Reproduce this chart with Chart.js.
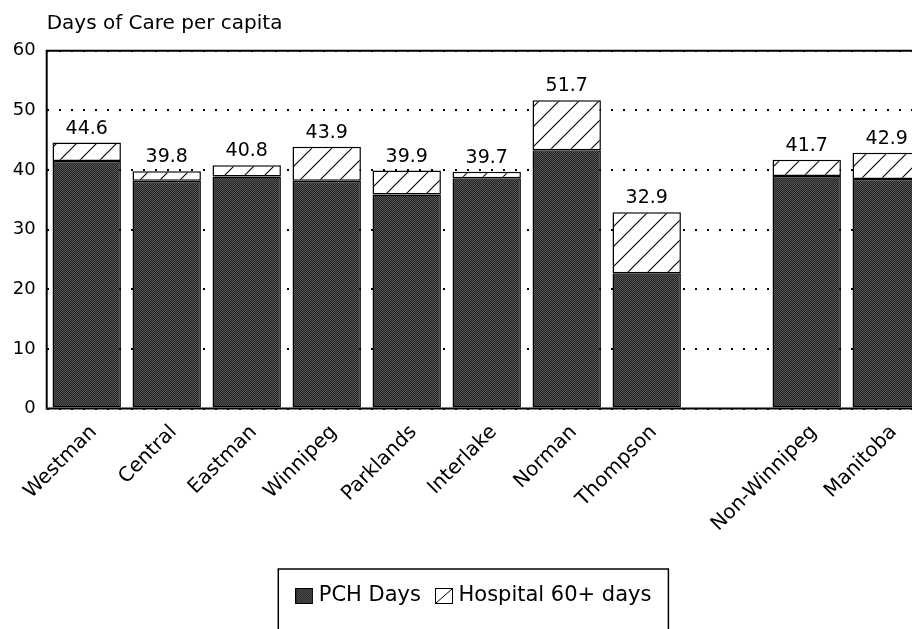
<!DOCTYPE html>
<html><head><meta charset="utf-8">
<script src="https://cdn.jsdelivr.net/npm/chart.js@4"></script>
<style>html,body{margin:0;padding:0;overflow:hidden;background:#fff;width:912px;height:629px}canvas{display:block}</style>
</head><body>
<canvas id="c" width="940" height="629"></canvas>
<script>
const categories = ['Westman','Central','Eastman','Winnipeg','Parklands','Interlake','Norman','Thompson','','Non-Winnipeg','Manitoba'];
const pchDays    = [41.5, 38.2, 38.9, 38.2, 35.9, 38.6, 43.3, 22.7, null, 39.0, 38.5];
const hospital60 = [ 3.1,  1.6,  1.9,  5.7,  4.0,  1.1,  8.4, 10.2, null,  2.7,  4.4];
const totalLabels = ['44.6','39.8','40.8','43.9','39.9','39.7','51.7','32.9','','41.7','42.9'];
const seriesNames = ['PCH Days','Hospital 60+ days'];
const titleText = 'Days of Care per capita';

Chart.defaults.font.family = "'DejaVu Sans', sans-serif";
Chart.defaults.color = '#000';

function makeCanvas(w,h){const c=document.createElement('canvas');c.width=w;c.height=h;return c;}
// dark halftone-like dither tile
const ditherTile = makeCanvas(2,2);
(function(){const g=ditherTile.getContext('2d');g.fillStyle='#242424';g.fillRect(0,0,2,2);g.fillStyle='#555';g.fillRect(0,0,1,1);g.fillRect(1,1,1,1);})();
// hatch tile
const hatchTile = makeCanvas(20,20);
(function(){const g=hatchTile.getContext('2d');g.fillStyle='#fff';g.fillRect(0,0,20,20);g.strokeStyle='#000';g.lineWidth=1.1;
 g.beginPath();g.moveTo(-2,22);g.lineTo(22,-2);g.moveTo(-2,2);g.lineTo(2,-2);g.moveTo(18,22);g.lineTo(22,18);g.stroke();})();
const ctx0 = document.getElementById('c').getContext('2d');
const ditherPattern = ctx0.createPattern(ditherTile,'repeat');
const hatchPattern = ctx0.createPattern(hatchTile,'repeat');

// legend icons
const iconPCH = makeCanvas(18,16);
(function(){const g=iconPCH.getContext('2d');g.fillStyle=g.createPattern(ditherTile,'repeat');g.fillRect(0,0,18,16);g.strokeStyle='#000';g.lineWidth=1;g.strokeRect(0.5,0.5,17,15);})();
const iconHosp = makeCanvas(18,16);
(function(){const g=iconHosp.getContext('2d');g.fillStyle='#fff';g.fillRect(0,0,18,16);g.strokeStyle='#000';g.lineWidth=1;g.strokeRect(0.5,0.5,17,15);g.beginPath();g.moveTo(1,15);g.lineTo(17,1);g.stroke();})();

const LEGEND_SHIFT = 7;
const frameAndLabels = {
  id:'frameAndLabels',
  afterLayout(chart){ if(chart.titleBlock){ chart.titleBlock.left = chart.chartArea.left; } },
  afterUpdate(chart){
    const lg = chart.legend; if(!lg) return;
    lg.left += LEGEND_SHIFT; lg.right += LEGEND_SHIFT;
    if(lg.legendHitBoxes) lg.legendHitBoxes.forEach(h=>{h.left += LEGEND_SHIFT;});
  },
  afterDatasetsDraw(chart){
    const {ctx, chartArea:a} = chart;
    ctx.save();
    ctx.strokeStyle='#000'; ctx.lineWidth=2; ctx.setLineDash([]);
    ctx.beginPath();
    ctx.moveTo(a.left-1,a.top); ctx.lineTo(a.right,a.top);
    ctx.moveTo(a.left,a.top); ctx.lineTo(a.left,a.bottom+1);
    ctx.moveTo(a.left-1,a.bottom); ctx.lineTo(a.right,a.bottom);
    ctx.stroke();
    const meta = chart.getDatasetMeta(1);
    ctx.fillStyle='#000'; ctx.font="19px 'DejaVu Sans'"; ctx.textAlign='center'; ctx.textBaseline='alphabetic';
    meta.data.forEach((el,i)=>{ if(totalLabels[i]) ctx.fillText(totalLabels[i], el.x, el.y-9); });
    ctx.restore();
  },
  afterDraw(chart){
    const lg = chart.legend; if(!lg || !lg.legendHitBoxes) return;
    const hb = lg.legendHitBoxes; const first=hb[0], last=hb[hb.length-1];
    const {ctx} = chart;
    ctx.save(); ctx.strokeStyle='#000'; ctx.lineWidth=1.5;
    const l = first.left-22, r = last.left+last.width+17, t = first.top-16.5;
    ctx.strokeRect(l, t, r-l, chart.height+10-t);
    ctx.restore();
  }
};

new Chart(ctx0, {
  type:'bar',
  data:{
    labels: categories,
    datasets:[
      {label:seriesNames[0], data:pchDays, backgroundColor:ditherPattern, borderColor:'#000', borderWidth:1.5, borderSkipped:false, barPercentage:0.855, categoryPercentage:1},
      {label:seriesNames[1], data:hospital60, backgroundColor:hatchPattern, borderColor:'#000', borderWidth:1.5, borderSkipped:false, barPercentage:0.855, categoryPercentage:1}
    ]
  },
  options:{
    responsive:false, animation:false, devicePixelRatio:1,
    layout:{padding:{left:11,right:13.3,top:0,bottom:12.5}},
    plugins:{
      title:{display:true,text:titleText,align:'start',color:'#000',font:{size:20,weight:'normal'},padding:{top:12,bottom:14.7}},
      legend:{position:'bottom',labels:{usePointStyle:true,pointStyleWidth:8,padding:19,color:'#000',font:{size:21},
        generateLabels(){ return [
          {text:seriesNames[0],pointStyle:iconPCH,fillStyle:'#333',strokeStyle:'#000',lineWidth:1,hidden:false,datasetIndex:0,fontColor:'#000'},
          {text:seriesNames[1],pointStyle:iconHosp,fillStyle:'#fff',strokeStyle:'#000',lineWidth:1,hidden:false,datasetIndex:1,fontColor:'#000'}
        ]; }}},
      tooltip:{enabled:false}
    },
    scales:{
      x:{stacked:true, grid:{display:false,drawTicks:false}, border:{display:false},
         ticks:{minRotation:45,maxRotation:45,autoSkip:false,padding:12,labelOffset:7,color:'#000',font:{size:20}},
         afterFit(s){ s.height = 158; }},
      y:{stacked:true, min:0, max:60,
         ticks:{stepSize:10,padding:11,color:'#000',font:{size:18}},
         grid:{color:'#000',lineWidth:2,drawTicks:false},
         border:{display:false,dash:[2,10]},
         afterFit(s){ s.width = 35.7; }}
    }
  },
  plugins:[frameAndLabels]
});
</script>
</body></html>
